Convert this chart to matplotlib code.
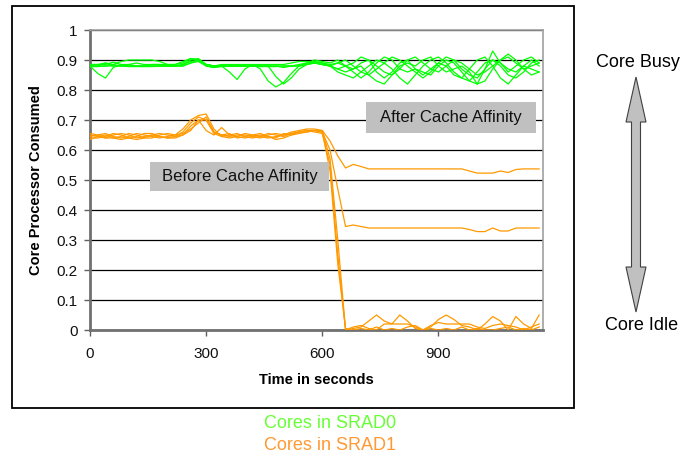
import matplotlib
matplotlib.use("Agg")
import matplotlib.pyplot as plt
import numpy as np
from matplotlib.patches import Rectangle, Polygon

plt.rcParams['font.family'] = ['Liberation Sans', 'DejaVu Sans']

# sampling grid (seconds)
time_s = np.arange(0, 1161, 20)

# Cores in SRAD0 (green)
srad0_core1 = [0.88, 0.855, 0.84, 0.875, 0.885, 0.885, 0.89, 0.885, 0.885, 0.885,
               0.885, 0.885, 0.89, 0.905, 0.9, 0.885, 0.88, 0.88, 0.86, 0.835,
               0.87, 0.885, 0.885, 0.885, 0.885, 0.885, 0.89, 0.895, 0.895, 0.89,
               0.885, 0.88, 0.87, 0.86, 0.87, 0.89, 0.9, 0.88, 0.86, 0.85,
               0.87, 0.9, 0.91, 0.89, 0.87, 0.86, 0.88, 0.9, 0.89, 0.87,
               0.85, 0.86, 0.88, 0.9, 0.91, 0.89, 0.87, 0.88, 0.89]
srad0_core2 = [0.885, 0.885, 0.89, 0.885, 0.895, 0.9, 0.9, 0.9, 0.9, 0.895,
               0.885, 0.885, 0.895, 0.905, 0.9, 0.885, 0.88, 0.885, 0.885, 0.885,
               0.885, 0.885, 0.87, 0.83, 0.81, 0.825, 0.855, 0.88, 0.89, 0.895,
               0.89, 0.885, 0.89, 0.9, 0.88, 0.86, 0.85, 0.87, 0.89, 0.91,
               0.9, 0.88, 0.86, 0.84, 0.86, 0.89, 0.91, 0.9, 0.87, 0.85,
               0.84, 0.87, 0.9, 0.89, 0.87, 0.86, 0.88, 0.9, 0.88]
srad0_core3 = [0.88, 0.88, 0.89, 0.88, 0.88, 0.88, 0.88, 0.88, 0.885, 0.885,
               0.88, 0.88, 0.885, 0.9, 0.905, 0.885, 0.88, 0.88, 0.88, 0.88,
               0.88, 0.88, 0.88, 0.88, 0.845, 0.82, 0.84, 0.87, 0.885, 0.89,
               0.885, 0.88, 0.86, 0.85, 0.84, 0.86, 0.88, 0.9, 0.89, 0.87,
               0.84, 0.82, 0.85, 0.88, 0.9, 0.91, 0.89, 0.86, 0.84, 0.83,
               0.86, 0.89, 0.9, 0.88, 0.85, 0.84, 0.86, 0.89, 0.9]
srad0_core4 = [0.885, 0.885, 0.885, 0.893, 0.885, 0.88, 0.88, 0.88, 0.88, 0.88,
               0.88, 0.88, 0.885, 0.895, 0.9, 0.88, 0.875, 0.88, 0.88, 0.88,
               0.88, 0.88, 0.88, 0.88, 0.88, 0.875, 0.88, 0.885, 0.89, 0.9,
               0.895, 0.89, 0.9, 0.88, 0.87, 0.88, 0.85, 0.83, 0.82, 0.85,
               0.88, 0.89, 0.88, 0.9, 0.91, 0.88, 0.86, 0.87, 0.88, 0.86,
               0.82, 0.83, 0.87, 0.9, 0.92, 0.9, 0.87, 0.85, 0.86]
srad0_core5 = [0.878, 0.878, 0.88, 0.885, 0.88, 0.878, 0.878, 0.878, 0.878, 0.88,
               0.88, 0.88, 0.88, 0.89, 0.895, 0.88, 0.875, 0.878, 0.88, 0.88,
               0.88, 0.88, 0.878, 0.878, 0.878, 0.88, 0.88, 0.88, 0.885, 0.895,
               0.89, 0.88, 0.89, 0.88, 0.86, 0.84, 0.86, 0.89, 0.91, 0.9,
               0.87, 0.86, 0.87, 0.86, 0.85, 0.88, 0.9, 0.89, 0.86, 0.83,
               0.82, 0.87, 0.93, 0.89, 0.86, 0.88, 0.9, 0.91, 0.89]
srad0_core6 = [0.88, 0.88, 0.88, 0.88, 0.88, 0.885, 0.88, 0.88, 0.88, 0.88,
               0.88, 0.88, 0.88, 0.89, 0.9, 0.885, 0.88, 0.88, 0.88, 0.88,
               0.88, 0.88, 0.88, 0.88, 0.88, 0.88, 0.88, 0.88, 0.885, 0.89,
               0.885, 0.88, 0.87, 0.88, 0.89, 0.91, 0.9, 0.86, 0.84, 0.86,
               0.89, 0.9, 0.87, 0.85, 0.87, 0.89, 0.88, 0.85, 0.84, 0.87,
               0.9, 0.91, 0.88, 0.84, 0.82, 0.85, 0.88, 0.87, 0.86]

# Cores in SRAD1 (orange)
srad1_core1 = [0.65, 0.645, 0.64, 0.65, 0.655, 0.65, 0.64, 0.645, 0.65, 0.655,
               0.65, 0.645, 0.66, 0.69, 0.71, 0.7, 0.66, 0.65, 0.645, 0.65,
               0.65, 0.645, 0.64, 0.65, 0.655, 0.65, 0.66, 0.665, 0.67, 0.67,
               0.665, 0.63, 0.58, 0.54, 0.552, 0.545, 0.537, 0.537, 0.537, 0.537,
               0.537, 0.537, 0.537, 0.537, 0.537, 0.537, 0.537, 0.537, 0.537, 0.53,
               0.523, 0.523, 0.523, 0.53, 0.525, 0.535, 0.537, 0.537, 0.537]
srad1_core2 = [0.645, 0.65, 0.655, 0.645, 0.64, 0.645, 0.655, 0.65, 0.645, 0.64,
               0.645, 0.65, 0.67, 0.7, 0.715, 0.72, 0.67, 0.645, 0.65, 0.655,
               0.645, 0.64, 0.645, 0.655, 0.65, 0.645, 0.655, 0.66, 0.665, 0.665,
               0.66, 0.6, 0.47, 0.345, 0.35, 0.345, 0.34, 0.34, 0.34, 0.34,
               0.34, 0.34, 0.34, 0.34, 0.34, 0.34, 0.34, 0.34, 0.34, 0.335,
               0.328, 0.328, 0.34, 0.33, 0.33, 0.34, 0.34, 0.34, 0.34]
srad1_core3 = [0.64, 0.64, 0.645, 0.655, 0.65, 0.64, 0.635, 0.64, 0.65, 0.645,
               0.64, 0.645, 0.65, 0.68, 0.7, 0.665, 0.65, 0.675, 0.65, 0.645,
               0.64, 0.645, 0.65, 0.645, 0.64, 0.655, 0.65, 0.66, 0.665, 0.66,
               0.655, 0.55, 0.25, 0.0, 0.005, 0.01, 0.03, 0.05, 0.03, 0.02,
               0.05, 0.03, 0.005, 0.0, 0.01, 0.035, 0.05, 0.035, 0.015, 0.01,
               0.0, 0.02, 0.045, 0.03, 0.0, 0.045, 0.02, 0.005, 0.05]
srad1_core4 = [0.655, 0.65, 0.64, 0.64, 0.645, 0.655, 0.65, 0.64, 0.64, 0.65,
               0.655, 0.65, 0.655, 0.67, 0.69, 0.71, 0.66, 0.65, 0.655, 0.64,
               0.645, 0.65, 0.655, 0.645, 0.635, 0.64, 0.65, 0.655, 0.66, 0.665,
               0.665, 0.57, 0.3, 0.0, 0.01, 0.015, 0.005, 0.0, 0.02, 0.02,
               0.02, 0.02, 0.01, 0.0, 0.015, 0.025, 0.02, 0.02, 0.02, 0.02,
               0.01, 0.005, 0.015, 0.02, 0.015, 0.01, 0.0, 0.01, 0.02]
srad1_core5 = [0.635, 0.645, 0.65, 0.64, 0.635, 0.64, 0.645, 0.655, 0.655, 0.645,
               0.64, 0.64, 0.65, 0.665, 0.7, 0.7, 0.655, 0.645, 0.64, 0.645,
               0.655, 0.65, 0.645, 0.64, 0.645, 0.65, 0.655, 0.66, 0.66, 0.665,
               0.66, 0.53, 0.22, 0.005, 0.0, 0.005, 0.0, 0.01, 0.0, 0.005,
               0.0, 0.01, 0.015, 0.0, 0.005, 0.0, 0.005, 0.0, 0.01, 0.0,
               0.005, 0.0, 0.0, 0.005, 0.01, 0.0, 0.005, 0.0, 0.01]

srad0_series = [srad0_core1, srad0_core2, srad0_core3, srad0_core4, srad0_core5, srad0_core6]
srad1_series = [srad1_core1, srad1_core2, srad1_core3, srad1_core4, srad1_core5]

x_ticks = [0, 300, 600, 900]
y_ticks = [0, 0.1, 0.2, 0.3, 0.4, 0.5, 0.6, 0.7, 0.8, 0.9, 1]
y_tick_labels = ['0', '0.1', '0.2', '0.3', '0.4', '0.5', '0.6', '0.7', '0.8', '0.9', '1']

GREEN = '#00ff00'
ORANGE = '#ff9900'

W, H = 694, 458
fig = plt.figure(figsize=(W / 100, H / 100), dpi=100)
fig.patch.set_facecolor('white')

def fx(px):
    return px / W

def fy(py):
    return 1 - py / H

ax = fig.add_axes([fx(90), fy(330), fx(543) - fx(90), fy(30) - fy(330)])
for s in srad0_series:
    ax.plot(time_s, s, color=GREEN, lw=0.9, zorder=3)
for s in srad1_series:
    ax.plot(time_s, s, color=ORANGE, lw=0.9, zorder=3)

ax.set_xlim(0, 1170)
ax.set_ylim(0, 1)
ax.set_xticks(x_ticks)
ax.set_xticklabels([str(t) for t in x_ticks])
ax.set_yticks(y_ticks)
ax.set_yticklabels(y_tick_labels)
ax.tick_params(axis='both', direction='out', length=4, width=1, color='#606060',
               labelsize=11, labelcolor='#111111')
ax.tick_params(axis='x', pad=8)
ax.tick_params(axis='y', pad=5)
ax.set_axisbelow(True)
ax.yaxis.grid(True, color='black', lw=0.9)
ax.xaxis.grid(False)
for side in ['left', 'bottom']:
    ax.spines[side].set_color('#707070')
    ax.spines[side].set_linewidth(2)
for side in ['top', 'right']:
    ax.spines[side].set_color('#a0a0a0')
    ax.spines[side].set_linewidth(1.2)

fig.text(fx(316), fy(380), 'Time in seconds', ha='center', va='center',
         fontsize=10.5, fontweight='bold')
fig.text(fx(36), fy(180), 'Core Processor Consumed', ha='center', va='center',
         rotation=90, fontsize=10.5, fontweight='bold')

# annotation boxes
def gray_box(x0, y0, x1, y1, label):
    r = Rectangle((fx(x0), fy(y1)), fx(x1) - fx(x0), fy(y0) - fy(y1),
                  transform=fig.transFigure, facecolor='#c0c0c0', edgecolor='none',
                  zorder=5)
    fig.patches.append(r)
    fig.text(fx((x0 + x1) / 2), fy((y0 + y1) / 2), label, ha='center', va='center',
             fontsize=12, color='#111111', zorder=6)

gray_box(150, 162, 329, 191, 'Before Cache Affinity')
gray_box(366, 102, 536, 133, 'After Cache Affinity')

# outer frame
frame = Rectangle((fx(12), fy(408)), fx(574) - fx(12), fy(6) - fy(408),
                  transform=fig.transFigure, fill=False, edgecolor='black', lw=1.3, zorder=4)
fig.patches.append(frame)

# double arrow on the right
cx = 636
pts = [(cx, 77), (cx + 10, 122), (cx + 4.5, 122), (cx + 4.5, 267), (cx + 10, 267),
       (cx, 312), (cx - 10, 267), (cx - 4.5, 267), (cx - 4.5, 122), (cx - 10, 122)]
arrow = Polygon([(fx(a), fy(b)) for a, b in pts], closed=True, transform=fig.transFigure,
                facecolor='#c0c0c0', edgecolor='#404040', lw=0.8, zorder=4)
fig.patches.append(arrow)
fig.text(fx(638), fy(63), 'Core Busy', ha='center', va='center', fontsize=13)
fig.text(fx(642), fy(325), 'Core Idle', ha='center', va='center', fontsize=13)

# legend-like labels
fig.text(fx(264), fy(423), 'Cores in SRAD0', ha='left', va='center', fontsize=13,
         color='#66ff33')
fig.text(fx(264), fy(445), 'Cores in SRAD1', ha='left', va='center', fontsize=13,
         color='#ff9933')

fig.savefig('out.png', dpi=100)
